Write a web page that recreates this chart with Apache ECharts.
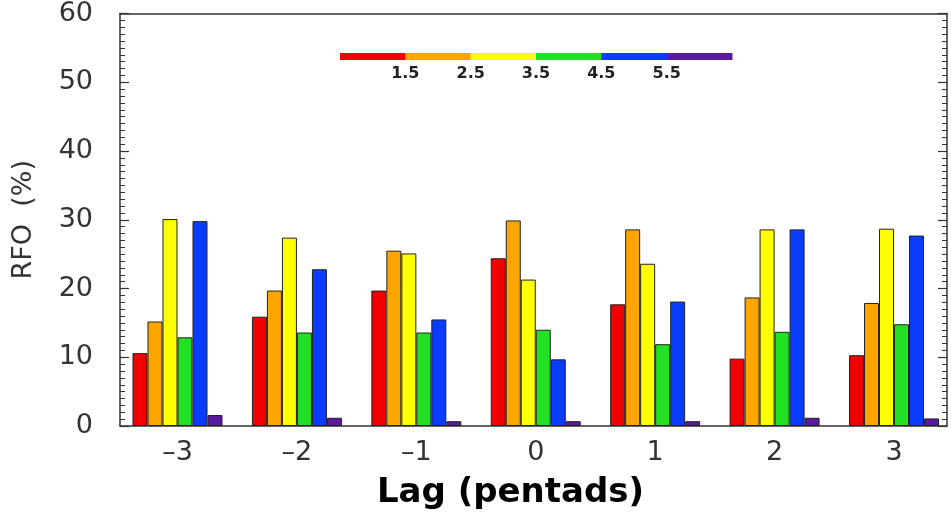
<!DOCTYPE html>
<html>
<head>
<meta charset="utf-8">
<script src="https://cdn.jsdelivr.net/npm/echarts@6/dist/echarts.min.js"></script>
<style>
html,body{margin:0;padding:0;background:#fff;}
#chart{width:951px;height:515px;}
</style>
</head>
<body>
<div id="chart"></div>
<script>
// ---- data ----
const lags = [-3, -2, -1, 0, 1, 2, 3];
const lagLabels = ['–3', '–2', '–1', '0', '1', '2', '3'];
const seriesNames = ['<1.5', '1.5-2.5', '2.5-3.5', '3.5-4.5', '4.5-5.5', '>5.5'];
const red    = [10.6, 15.9, 19.7, 24.4, 17.7,  9.8, 10.3];
const orange = [15.2, 19.7, 25.5, 29.9, 28.6, 18.7, 17.9];
const yellow = [30.1, 27.4, 25.1, 21.3, 23.6, 28.6, 28.7];
const green  = [12.9, 13.6, 13.6, 14.0, 11.9, 13.7, 14.8];
const blue   = [29.8, 22.8, 15.5,  9.7, 18.1, 28.6, 27.7];
const purple = [ 1.6,  1.2,  0.7,  0.7,  0.7,  1.2,  1.1];
const legendTicks = ['1.5', '2.5', '3.5', '4.5', '5.5'];
const yTicks = [0, 10, 20, 30, 40, 50, 60];

// ---- styling ----
const colors = ['#f00000', '#ffa500', '#ffff00', '#22e022', '#0a3cff', '#5a1aa0'];
const allValues = [red, orange, yellow, green, blue, purple];
const axisColor = '#333';
const tickFont = 'DejaVu Sans';

const chart = echarts.init(document.getElementById('chart'), null, {renderer: 'canvas'});

const series = allValues.map((vals, i) => ({
  type: 'bar',
  name: seriesNames[i],
  xAxisIndex: 0,
  yAxisIndex: 0,
  barWidth: 15,
  barGap: '0%',
  data: lags.map((l, j) => [l, vals[j]]),
  itemStyle: {color: colors[i], borderColor: '#222', borderWidth: 1},
  silent: true
}));

// legend colour bar (graphic)
const legX = 340, legW = 392, legY = 53, legH = 7;
const segW = legW / colors.length;
const graphics = [];
colors.forEach((c, i) => {
  graphics.push({type: 'rect', left: legX + i * segW, top: legY,
    shape: {width: segW + 0.5, height: legH}, style: {fill: c}});
});
legendTicks.forEach((t, i) => {
  graphics.push({type: 'text', x: legX + (i + 1) * segW, y: legY + 21,
    style: {text: t, fill: '#222', font: 'bold 16px "DejaVu Sans"', align: 'center', verticalAlign: 'middle'}});
});

const xMin = -3.4815, xMax = 3.4438;

chart.setOption({
  backgroundColor: '#fff',
  animation: false,
  grid: {left: 120, right: 4, top: 12, bottom: 85},
  xAxis: [{
    type: 'value', min: xMin, max: xMax, position: 'bottom',
    axisLine: {show: true, onZero: false, lineStyle: {color: axisColor, width: 1.5}},
    axisTick: {show: false},
    splitLine: {show: false},
    axisLabel: {
      customValues: lags,
      formatter: v => lagLabels[lags.indexOf(Math.round(v))],
      fontFamily: tickFont, fontSize: 27, color: '#333', margin: 13
    },
    name: 'Lag (pentads)', nameLocation: 'middle', nameGap: 50,
    nameTextStyle: {fontFamily: 'DejaVu Sans', fontWeight: 'bold', fontSize: 34, color: '#000', padding: [0, 46, 0, 0]}
  }, {
    type: 'value', min: xMin, max: xMax, position: 'top',
    axisLine: {show: true, onZero: false, lineStyle: {color: axisColor, width: 1.5}},
    axisTick: {show: false}, axisLabel: {show: false}, splitLine: {show: false}
  }],
  yAxis: [{
    type: 'value', min: 0, max: 60, interval: 10, position: 'left',
    axisLine: {show: true, onZero: false, lineStyle: {color: axisColor, width: 1.5}},
    axisTick: {show: true, inside: true, length: 9, lineStyle: {color: axisColor, width: 1.2}},
    minorTick: {show: true, splitNumber: 10, length: 5, lineStyle: {color: axisColor, width: 1}},
    splitLine: {show: false},
    axisLabel: {
      customValues: yTicks,
      fontFamily: tickFont, fontSize: 27, color: '#333', margin: 27
    },
    name: 'RFO  (%)', nameLocation: 'middle', nameGap: 83,
    nameTextStyle: {fontFamily: tickFont, fontSize: 27, color: '#333'}
  }, {
    type: 'value', min: 0, max: 60, interval: 10, position: 'right',
    axisLine: {show: true, onZero: false, lineStyle: {color: axisColor, width: 1.5}},
    axisTick: {show: true, inside: true, length: 9, lineStyle: {color: axisColor, width: 1.2}},
    minorTick: {show: true, splitNumber: 10, length: 5, lineStyle: {color: axisColor, width: 1}},
    splitLine: {show: false},
    axisLabel: {show: false}
  }],
  series: series,
  graphic: graphics
});
</script>
</body>
</html>
